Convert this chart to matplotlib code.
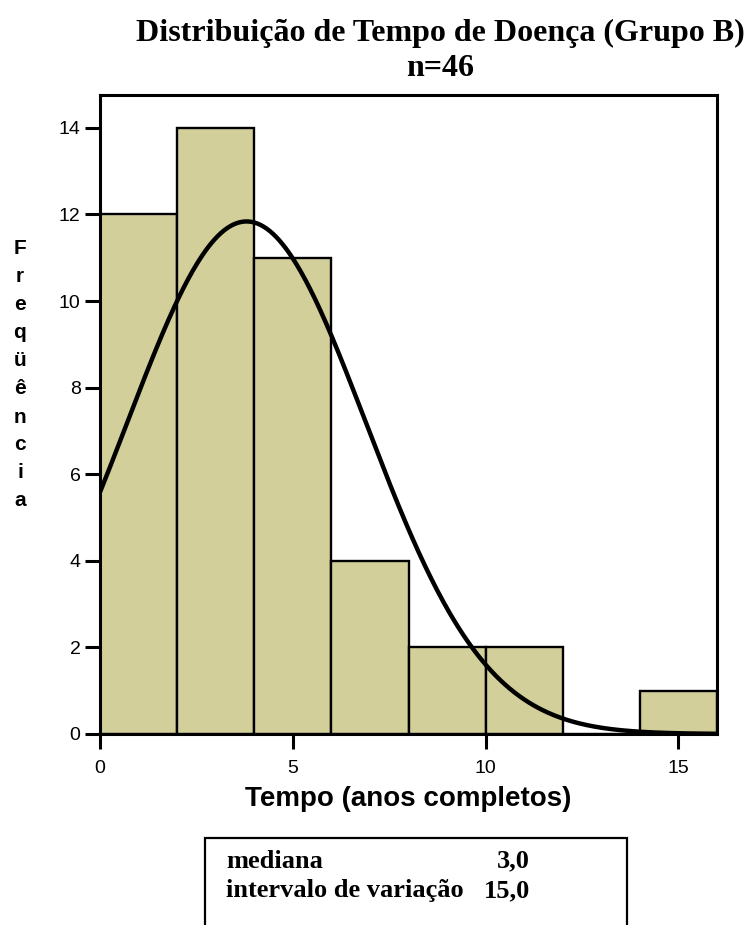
import numpy as np
import matplotlib
matplotlib.use("Agg")
import matplotlib.pyplot as plt
from matplotlib.patches import Rectangle

# Data
bin_edges = [0, 2, 4, 6, 8, 10, 12, 14, 16]
counts = [12, 14, 11, 4, 2, 2, 0, 1]
n_total = 46
fit_mean = 3.8
fit_sd = 3.1
x_ticks = [0, 5, 10, 15]
y_ticks = [0, 2, 4, 6, 8, 10, 12, 14]
title_lines = ["Distribuição de Tempo de Doença (Grupo B)", "n=46"]
xlabel = "Tempo (anos completos)"
ylabel = "Freqüência"
stats_labels = ["mediana", "intervalo de variação"]
stats_values = ["3,0", "15,0"]

bar_color = "#D3CF9A"

fig = plt.figure(figsize=(7.48, 9.25), dpi=100)
ax = fig.add_axes([100/748, 1-734/925, 617/748, 639/925])

lefts = bin_edges[:-1]
widths = np.diff(bin_edges)
ax.bar(lefts, counts, width=widths, align="edge", color=bar_color,
       edgecolor="black", linewidth=1.7, zorder=2)

xs = np.linspace(bin_edges[0], bin_edges[-1], 400)
bw = widths[0]
ys = n_total * bw / (fit_sd * np.sqrt(2*np.pi)) * np.exp(-0.5*((xs-fit_mean)/fit_sd)**2)
ax.plot(xs, ys, color="black", linewidth=3.2, zorder=3, solid_capstyle="butt")

ax.set_xlim(0, 16)
ax.set_ylim(0, 14.76)
ax.set_xticks(x_ticks)
ax.set_yticks(y_ticks)
for s in ax.spines.values():
    s.set_linewidth(2.2)
ax.tick_params(axis="both", direction="out", width=2.2, length=11,
               labelsize=14, pad=3)
for lab in ax.get_xticklabels() + ax.get_yticklabels():
    lab.set_fontfamily("Liberation Sans")
ax.tick_params(axis="x", pad=8)

ax.set_xlabel(xlabel, fontsize=20, fontweight="bold", family="Liberation Sans",
              labelpad=6)

letters = list(ylabel)
y0, step = 249, 28
for i, ch in enumerate(letters):
    fig.text(20/748, 1-(y0 + step*i)/925, ch, ha="center", va="center",
             fontsize=15, fontweight="bold", family="Liberation Sans")

fig.text(440/748, 1-33/925, title_lines[0], ha="center", va="center",
         fontsize=23, fontweight="bold", family="Liberation Serif")
fig.text(440/748, 1-68/925, title_lines[1], ha="center", va="center",
         fontsize=23, fontweight="bold", family="Liberation Serif")

box = Rectangle((205/748, -0.05), (627-205)/748, 0.05 + (925-838)/925,
                transform=fig.transFigure, fill=False, edgecolor="black",
                linewidth=1.6, clip_on=False)
fig.patches.append(box)

for i, (lab, val) in enumerate(zip(stats_labels, stats_values)):
    yy = 1 - (861 + 30*i)/925
    fig.text(226/748, yy, lab, ha="left", va="center", fontsize=19,
             fontweight="bold", family="Liberation Serif")
    fig.text(530/748, yy, val, ha="right", va="center", fontsize=19,
             fontweight="bold", family="Liberation Serif")

fig.savefig("out.png", dpi=100)
